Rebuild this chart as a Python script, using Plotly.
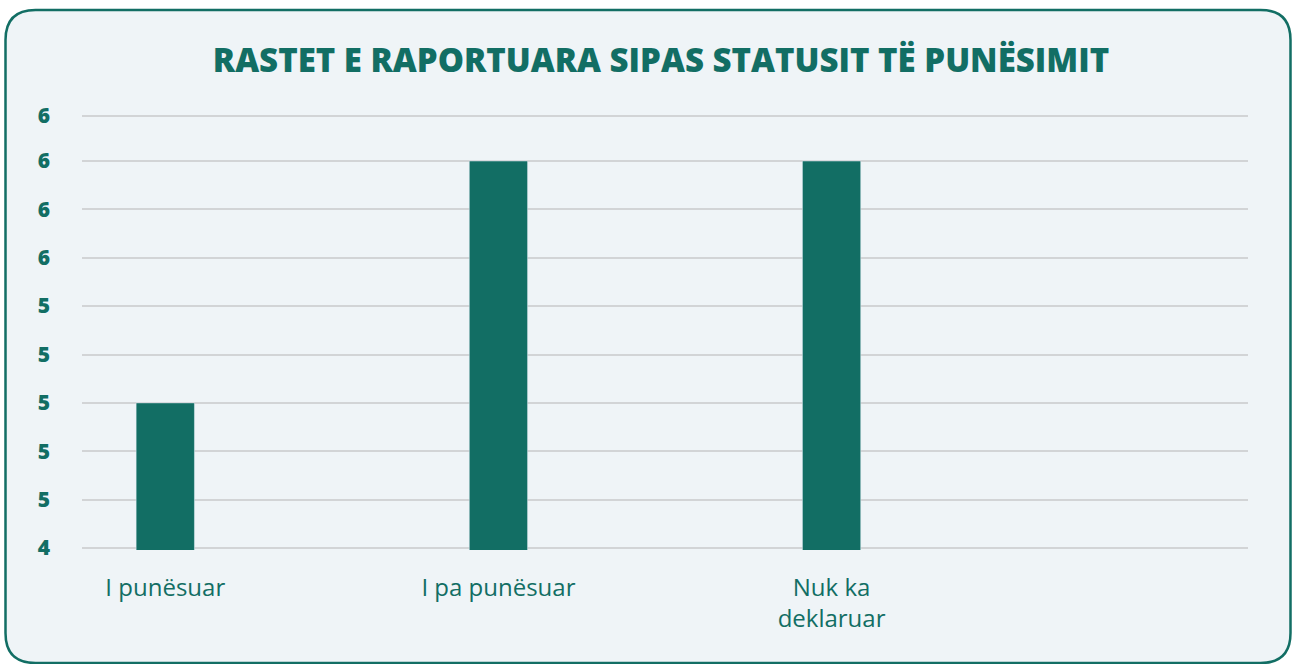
import plotly.graph_objects as go

categories = ["I punësuar", "I pa punësuar", "Nuk ka<br>deklaruar"]
values = [5, 6, 6]
y_ticks = [4.4, 4.6, 4.8, 5.0, 5.2, 5.4, 5.6, 5.8, 6.0, 6.186]
title_text = "RASTET E RAPORTUARA SIPAS STATUSIT TË PUNËSIMIT"

TEAL = "#126e64"
BG = "#eff4f7"
W, H = 1293, 664
L, R, T, B = 82, 45, 112, 114
pw, ph = W - L - R, H - T - B

# value scale: 4.4 at pixel 548, 6.0 at pixel 161
k = (6.0 - 4.4) / (548 - 161)
y_lo = 4.4 - ((H - B) - 548) * k
y_top = 6.0 + (161 - T) * k

def px(x):
    return (x - L) / pw

def py(y):
    return (H - B - y) / ph

# rounded card
x0, x1, y0, y1, r = 5.5, 1290.5, 10, 663, 30
path = (
    f"M {px(x0 + r)} {py(y0)} L {px(x1 - r)} {py(y0)} "
    f"Q {px(x1)} {py(y0)} {px(x1)} {py(y0 + r)} "
    f"L {px(x1)} {py(y1 - r)} Q {px(x1)} {py(y1)} {px(x1 - r)} {py(y1)} "
    f"L {px(x0 + r)} {py(y1)} Q {px(x0)} {py(y1)} {px(x0)} {py(y1 - r)} "
    f"L {px(x0)} {py(y0 + r)} Q {px(x0)} {py(y0)} {px(x0 + r)} {py(y0)} Z"
)

fig = go.Figure(
    go.Bar(
        x=list(range(len(categories))),
        y=values,
        marker_color=TEAL,
        width=0.175,
        hoverinfo="skip",
    )
)

fig.update_layout(
    width=W,
    height=H,
    margin=dict(l=L, r=R, t=T, b=B),
    paper_bgcolor="white",
    plot_bgcolor="rgba(0,0,0,0)",
    showlegend=False,
    shapes=[
        dict(
            type="path",
            path=path,
            xref="paper",
            yref="paper",
            fillcolor=BG,
            line=dict(color=TEAL, width=2.5),
            layer="below",
        )
    ],
    title=dict(
        text=title_text,
        x=(661 - L) / pw,
        xref="paper",
        xanchor="center",
        y=1 - 60 / H,
        yanchor="middle",
        font=dict(family="Open Sans", size=33, color=TEAL, weight=800),
    ),
)

fig.update_xaxes(
    range=[-0.25, 3.25],
    tickvals=list(range(len(categories))),
    ticktext=categories,
    showgrid=False,
    zeroline=False,
    showline=False,
    ticks="outside",
    ticklen=16,
    tickcolor="rgba(0,0,0,0)",
    tickfont=dict(family="Open Sans", size=24, color=TEAL),
)

fig.update_yaxes(
    range=[y_lo, y_top],
    tickvals=y_ticks,
    tickformat=".0f",
    showgrid=True,
    gridcolor="#d2d4d6",
    gridwidth=1.5,
    zeroline=False,
    showline=False,
    ticklabelstandoff=31,
    tickfont=dict(family="Open Sans", size=21, color=TEAL, weight=800),
)

fig.write_html(
    "out.html",
    config={"displayModeBar": False},
    post_script="document.body.style.margin='0';",
)
